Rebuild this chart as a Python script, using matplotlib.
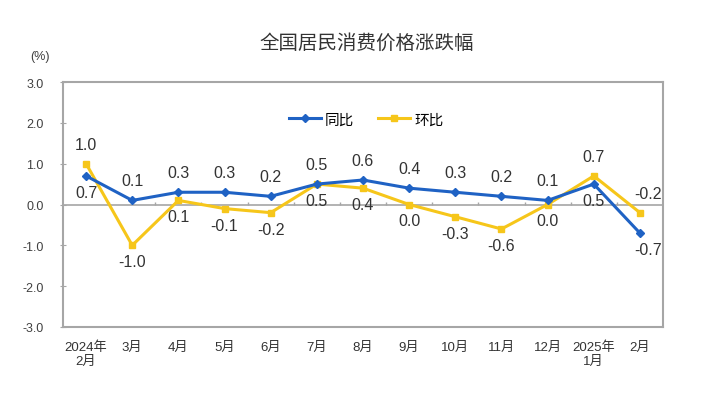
import matplotlib
matplotlib.use('Agg')
import matplotlib.pyplot as plt
import numpy as np

plt.rcParams['font.family'] = ['Liberation Sans', 'Noto Sans CJK SC', 'DejaVu Sans']

# 月份标签
months = ['2024年\n2月', '3月', '4月', '5月', '6月', '7月', '8月', '9月',
          '10月', '11月', '12月', '2025年\n1月', '2月']
yoy = [0.7, 0.1, 0.3, 0.3, 0.2, 0.5, 0.6, 0.4, 0.3, 0.2, 0.1, 0.5, -0.7]   # 同比
mom = [1.0, -1.0, 0.1, -0.1, -0.2, 0.5, 0.4, 0.0, -0.3, -0.6, 0.0, 0.7, -0.2]  # 环比
yticks = [-3.0, -2.0, -1.0, 0.0, 1.0, 2.0, 3.0]

blue = '#1f62c4'
yellow = '#f6c61a'
gray = '#a6a6a6'
txt = '#333333'

fig = plt.figure(figsize=(7.01, 4.10), dpi=100)
ax = fig.add_axes([63/701, 1-328/410, 600/701, 245/410])

x = np.arange(len(months))
ax.plot(x, yoy, '-D', color=blue, lw=2.2, ms=4.5, label='同比', zorder=4)
ax.plot(x, mom, '-s', color=yellow, lw=2.2, ms=5, label='环比', zorder=3)

ax.axhline(0, color=gray, lw=1.2, zorder=1)
# 零线上的分隔刻度
ax.vlines(x[:-1] + 0.5, 0, 0.07, color=gray, lw=1, zorder=1)

# 数据标签
for i in x:
    a, b = yoy[i], mom[i]
    if a >= b:
        up, dn = a, b
    else:
        up, dn = b, a
    dx = 8 if i == len(x) - 1 else 0
    ax.annotate(f'{up:.1f}', (i, up), xytext=(dx, 12), textcoords='offset pixels',
                ha='center', va='bottom', fontsize=11.5, color=txt)
    ax.annotate(f'{dn:.1f}', (i, dn), xytext=(dx, -9), textcoords='offset pixels',
                ha='center', va='top', fontsize=11.5, color=txt)

ax.set_xlim(-0.5, len(x) - 0.5)
ax.set_ylim(-3, 3)
ax.set_yticks(yticks)
ax.set_yticklabels([f'{v:.1f}' for v in yticks], fontsize=9, color='#404040')
ax.set_xticks(x)
ax.set_xticklabels(months, fontsize=9.5, color=txt, linespacing=1.1)
ax.tick_params(axis='x', length=0, pad=10)
ax.tick_params(axis='y', direction='inout', length=4, color=gray, pad=12)
for s in ax.spines.values():
    s.set_color(gray)
    s.set_linewidth(1.5)

ax.legend(loc='upper center', bbox_to_anchor=(0.505, 0.93), ncol=2, frameon=False,
          fontsize=10.5, handlelength=2.2, columnspacing=1.6, handletextpad=0.3)

fig.text(367/701, 1-43/410, '全国居民消费价格涨跌幅', ha='center', va='center',
         fontsize=14, color=txt)
fig.text(40/701, 1-57/410, '(%)', ha='center', va='center', fontsize=9, color='#404040')

fig.savefig('out.png', dpi=100, facecolor='white')
